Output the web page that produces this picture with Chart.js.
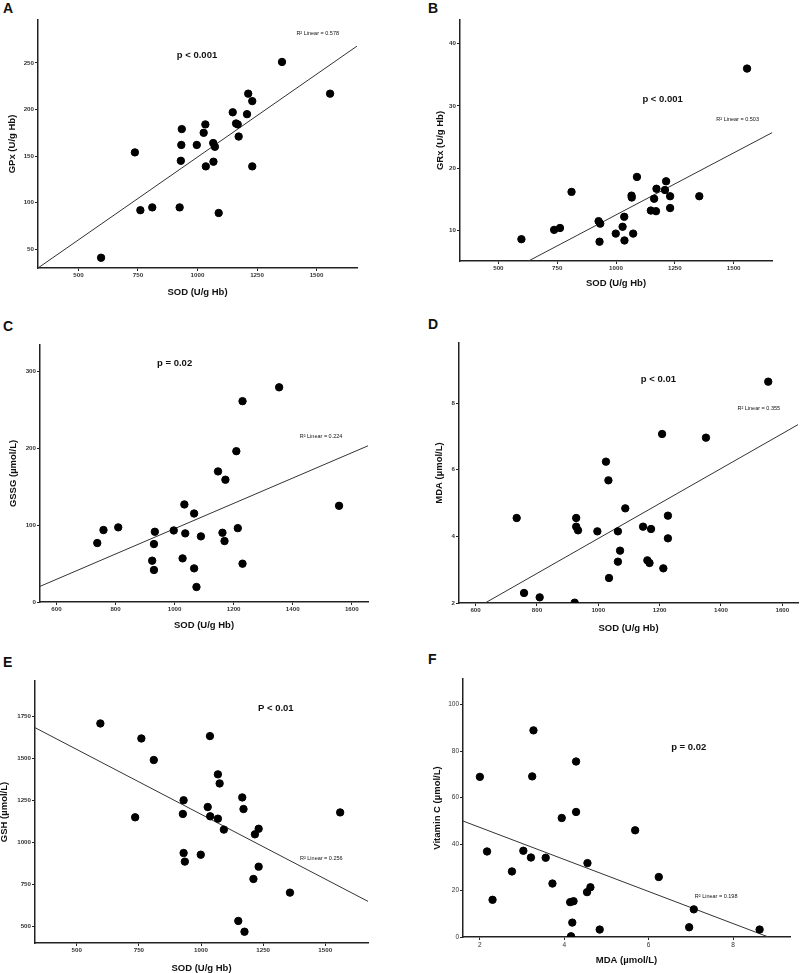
<!DOCTYPE html>
<html>
<head>
<meta charset="utf-8">
<script src="https://cdn.jsdelivr.net/npm/chart.js@4.4.0/dist/chart.umd.min.js"></script>
<style>
  body { margin: 0; width: 800px; height: 973px; position: relative; overflow: hidden; background: #fff;
         font-family: "Liberation Sans", Arial, sans-serif; }
  .lbl { position: absolute; font-weight: bold; font-size: 14px; line-height: 1; color: #111; }
  .box { position: absolute; }
</style>
</head>
<body>
<div class="lbl" style="left:3px;top:1px">A</div>
<div class="lbl" style="left:428px;top:1px">B</div>
<div class="lbl" style="left:3px;top:319px">C</div>
<div class="lbl" style="left:428px;top:317px">D</div>
<div class="lbl" style="left:3px;top:655px">E</div>
<div class="lbl" style="left:428px;top:652px">F</div>
<script>
// A: SOD vs GPx
var sodA = [595, 737, 760, 810, 925, 932, 934, 930, 997, 1026, 1033, 1035, 1066, 1073, 1067, 1089, 1148, 1162, 1169, 1173, 1208, 1213, 1230, 1230, 1355, 1557];
var gpx  = [41, 154, 92, 95, 95, 162, 179, 145, 162, 175, 184, 139, 164, 160, 144, 89, 197, 185, 184, 171, 195, 217, 209, 139, 251, 217];
var fitA = { x: [330, 1670], y: [30, 268] };

// B: SOD vs GRx
var sodB = [598, 737, 762, 811, 926, 933, 930, 999, 1028, 1035, 1036, 1066, 1067, 1073, 1089, 1148, 1162, 1170, 1172, 1208, 1213, 1230, 1230, 1354, 1557];
var grx  = [8.6, 10.1, 10.4, 16.2, 11.5, 11.1, 8.2, 9.5, 10.6, 12.2, 8.4, 15.6, 15.3, 9.5, 18.6, 13.2, 15.1, 13.1, 16.7, 16.5, 17.9, 15.5, 13.6, 15.5, 36.0];
var fitB = { x: [628, 1663], y: [5.1, 25.7] };

// C: SOD vs GSSG
var sodC = [738, 759, 809, 924, 930, 930, 933, 997, 1027, 1033, 1036, 1066, 1066, 1074, 1089, 1147, 1162, 1169, 1172, 1209, 1214, 1230, 1230, 1354, 1557];
var gssg = [76.6, 93.5, 97, 53.7, 75.3, 41.6, 91.3, 93, 56.7, 126.8, 89.2, 115, 43.7, 19.5, 85.3, 169.7, 90, 79.2, 158.9, 196, 96, 261, 49.8, 279, 125];
var fitC = { x: [544, 1655], y: [20.3, 203] };

// D: SOD vs MDA
var sodD = [734, 758, 809, 923, 928, 928, 934, 997, 1025, 1033, 1035, 1064, 1064, 1071, 1088, 1146, 1160, 1167, 1172, 1208, 1212, 1227, 1227, 1351, 1554];
var mdaD = [4.55, 2.3, 2.17, 2.01, 4.55, 4.29, 4.18, 4.15, 6.24, 5.68, 2.75, 4.15, 3.24, 3.57, 4.84, 4.29, 3.28, 3.2, 4.22, 7.07, 3.04, 4.62, 3.94, 6.96, 8.64];
var fitD = { x: [631, 1651], y: [2, 7.35] };

// E: SOD vs GSH
var sodE = [595, 735, 760, 810, 927, 930, 930, 935, 999, 1027, 1036, 1037, 1068, 1068, 1075, 1092, 1150, 1166, 1171, 1175, 1211, 1217, 1232, 1232, 1358, 1560];
var gsh  = [1706, 1149, 1617, 1489, 1169, 1250, 937, 886, 927, 1210, 1631, 1155, 1404, 1141, 1350, 1076, 534, 1267, 1198, 470, 783, 1048, 1081, 856, 702, 1178];
var fitE = { x: [332, 1672], y: [1681, 650] };

// F: MDA vs Vitamin C
var mdaF = [2.0, 2.17, 2.3, 2.76, 3.03, 3.21, 3.24, 3.27, 3.56, 3.72, 3.94, 4.14, 4.16, 4.19, 4.22, 4.28, 4.28, 4.54, 4.55, 4.62, 4.84, 5.68, 6.24, 6.96, 7.07, 8.63];
var vitC = [68.9, 36.8, 16, 28.2, 37.1, 34.2, 69.1, 88.9, 34.1, 23, 51.2, 15, 0.3, 6.2, 15.4, 75.5, 53.8, 19.3, 31.8, 21.4, 3.2, 45.9, 25.8, 4.2, 11.9, 3.2];
var fitF = { x: [1.6, 8.84], y: [49.9, 0] };

// tick labels
var sodTicks250 = [500, 750, 1000, 1250, 1500];
var sodTicks200 = [600, 800, 1000, 1200, 1400, 1600];
var gpxTicks = [50, 100, 150, 200, 250];
var grxTicks = [10, 20, 30, 40];
var gssgTicks = [0, 100, 200, 300];
var mdaTicks = [2, 4, 6, 8];
var gshTicks = [500, 750, 1000, 1250, 1500, 1750];
var vitTicks = [0, 20, 40, 60, 80, 100];

function pts(xs, ys) {
  return xs.map(function (v, i) { return { x: v, y: ys[i] }; });
}

function notes(items) {
  return {
    id: 'notes',
    afterDatasetsDraw: function (chart) {
      var ctx = chart.ctx, xs = chart.scales.x, ys = chart.scales.y;
      ctx.save();
      ctx.fillStyle = '#111';
      ctx.textAlign = 'center';
      ctx.textBaseline = 'middle';
      items.forEach(function (n) {
        ctx.font = n.font;
        ctx.fillText(n.text, xs.getPixelForValue(n.x), ys.getPixelForValue(n.y));
      });
      ctx.restore();
    }
  };
}

function plain(v) { return String(v); }

function panel(p) {
  var cl = p.yTitleX - 12, ct = p.top - 6;
  var cw = p.right + 5 - cl, ch = p.xTitleY + 12 - ct;
  var wrap = document.createElement('div');
  wrap.className = 'box';
  wrap.style.left = cl + 'px';
  wrap.style.top = ct + 'px';
  wrap.style.width = cw + 'px';
  wrap.style.height = ch + 'px';
  var cv = document.createElement('canvas');
  wrap.appendChild(cv);
  document.body.appendChild(wrap);

  var tickFont = p.tickFont || { size: 6.2, weight: 'bold', family: '"Liberation Sans", Arial, sans-serif' };
  var titleFont = { size: 9.5, weight: 'bold', family: '"Liberation Sans", Arial, sans-serif' };

  new Chart(cv, {
    type: 'scatter',
    data: {
      datasets: [{
        data: pts(p.xs, p.ys),
        backgroundColor: '#000',
        borderColor: '#000',
        pointRadius: 3.7,
        pointHoverRadius: 3.7
      }, {
        type: 'line',
        data: pts(p.fit.x, p.fit.y),
        borderColor: '#333',
        borderWidth: 1,
        pointRadius: 0,
        fill: false
      }]
    },
    options: {
      responsive: true,
      maintainAspectRatio: false,
      animation: false,
      layout: { padding: { top: 6, right: 5, left: 0, bottom: 0 } },
      plugins: { legend: { display: false }, tooltip: { enabled: false } },
      scales: {
        x: {
          type: 'linear', min: p.xMin, max: p.xMax,
          afterBuildTicks: function (s) { s.ticks = p.xTicks.map(function (v) { return { value: v }; }); },
          afterFit: function (s) { s.height = ch - (p.bottom - ct); },
          ticks: { font: tickFont, color: '#333', padding: 1, maxRotation: 0, autoSkip: false, callback: plain },
          grid: { drawOnChartArea: false, drawTicks: true, tickLength: 3, color: '#222' },
          border: { display: true, color: '#222', width: 1.5 },
          title: { display: true, text: p.xTitle, font: titleFont, color: '#111', padding: { top: 0, bottom: 6.3 } }
        },
        y: {
          type: 'linear', min: p.yMin, max: p.yMax,
          afterBuildTicks: function (s) { s.ticks = p.yTicks.map(function (v) { return { value: v }; }); },
          afterFit: function (s) { s.width = p.left - cl; },
          ticks: { font: tickFont, color: '#333', padding: 1, autoSkip: false, callback: plain },
          grid: { drawOnChartArea: false, drawTicks: true, tickLength: 3, color: '#222' },
          border: { display: true, color: '#222', width: 1.5 },
          title: { display: true, text: p.yTitle, font: titleFont, color: '#111', padding: { top: 6.3, bottom: 0 } }
        }
      }
    },
    plugins: [notes(p.notes)]
  });
}

var pFont = 'bold 9.5px "Liberation Sans", Arial, sans-serif';
var rFont = '5.5px "Liberation Sans", Arial, sans-serif';

panel({
  left: 38, top: 20, right: 357, bottom: 268, yTitleX: 12, xTitleY: 292,
  xs: sodA, ys: gpx, fit: fitA, xMin: 330, xMax: 1670, yMin: 30, yMax: 296,
  xTicks: sodTicks250, yTicks: gpxTicks, xTitle: 'SOD (U/g Hb)', yTitle: 'GPx (U/g Hb)',
  notes: [{ text: 'p < 0.001', x: 998, y: 258, font: pFont }, { text: 'R² Linear = 0.578', x: 1505, y: 282, font: rFont }]
});
panel({
  left: 460, top: 20, right: 772, bottom: 261, yTitleX: 440, xTitleY: 283,
  xs: sodB, ys: grx, fit: fitB, xMin: 337, xMax: 1663, yMin: 5.1, yMax: 43.8,
  xTicks: sodTicks250, yTicks: grxTicks, xTitle: 'SOD (U/g Hb)', yTitle: 'GRx (U/g Hb)',
  notes: [{ text: 'p < 0.001', x: 1198, y: 31.1, font: pFont }, { text: 'R² Linear = 0.503', x: 1517, y: 27.8, font: rFont }]
});
panel({
  left: 40, top: 345, right: 368, bottom: 602, yTitleX: 13, xTitleY: 625,
  xs: sodC, ys: gssg, fit: fitC, xMin: 544, xMax: 1655, yMin: 0, yMax: 334,
  xTicks: sodTicks200, yTicks: gssgTicks, xTitle: 'SOD (U/g Hb)', yTitle: 'GSSG (µmol/L)',
  notes: [{ text: 'p = 0.02', x: 1000, y: 309.5, font: pFont }, { text: 'R² Linear = 0.224', x: 1496, y: 215, font: rFont }]
});
panel({
  left: 459, top: 343, right: 798, bottom: 603, yTitleX: 439, xTitleY: 628,
  xs: sodD, ys: mdaD, fit: fitD, xMin: 546, xMax: 1651, yMin: 2, yMax: 9.8,
  xTicks: sodTicks200, yTicks: mdaTicks, xTitle: 'SOD (U/g Hb)', yTitle: 'MDA (µmol/L)',
  notes: [{ text: 'p < 0.01', x: 1196, y: 8.7, font: pFont }, { text: 'R² Linear = 0.355', x: 1523, y: 7.85, font: rFont }]
});
panel({
  left: 35, top: 681, right: 368, bottom: 943, yTitleX: 4, xTitleY: 968,
  xs: sodE, ys: gsh, fit: fitE, xMin: 332, xMax: 1672, yMin: 403, yMax: 1958,
  xTicks: sodTicks250, yTicks: gshTicks, xTitle: 'SOD (U/g Hb)', yTitle: 'GSH (µmol/L)',
  notes: [{ text: 'P < 0.01', x: 1301, y: 1796, font: pFont }, { text: 'R² Linear = 0.256', x: 1484, y: 903, font: rFont }]
});
panel({
  left: 463, top: 679, right: 790, bottom: 937, yTitleX: 437, xTitleY: 960,
  xs: mdaF, ys: vitC, fit: fitF, xMin: 1.6, xMax: 9.35, yMin: 0, yMax: 111,
  xTicks: mdaTicks, yTicks: vitTicks, xTitle: 'MDA (µmol/L)', yTitle: 'Vitamin C (µmol/L)',
  tickFont: { size: 6.5, family: '"Liberation Sans", Arial, sans-serif' },
  notes: [{ text: 'p = 0.02', x: 6.95, y: 81.6, font: pFont }, { text: 'R² Linear = 0.198', x: 7.6, y: 17.3, font: rFont }]
});
</script>
</body>
</html>
